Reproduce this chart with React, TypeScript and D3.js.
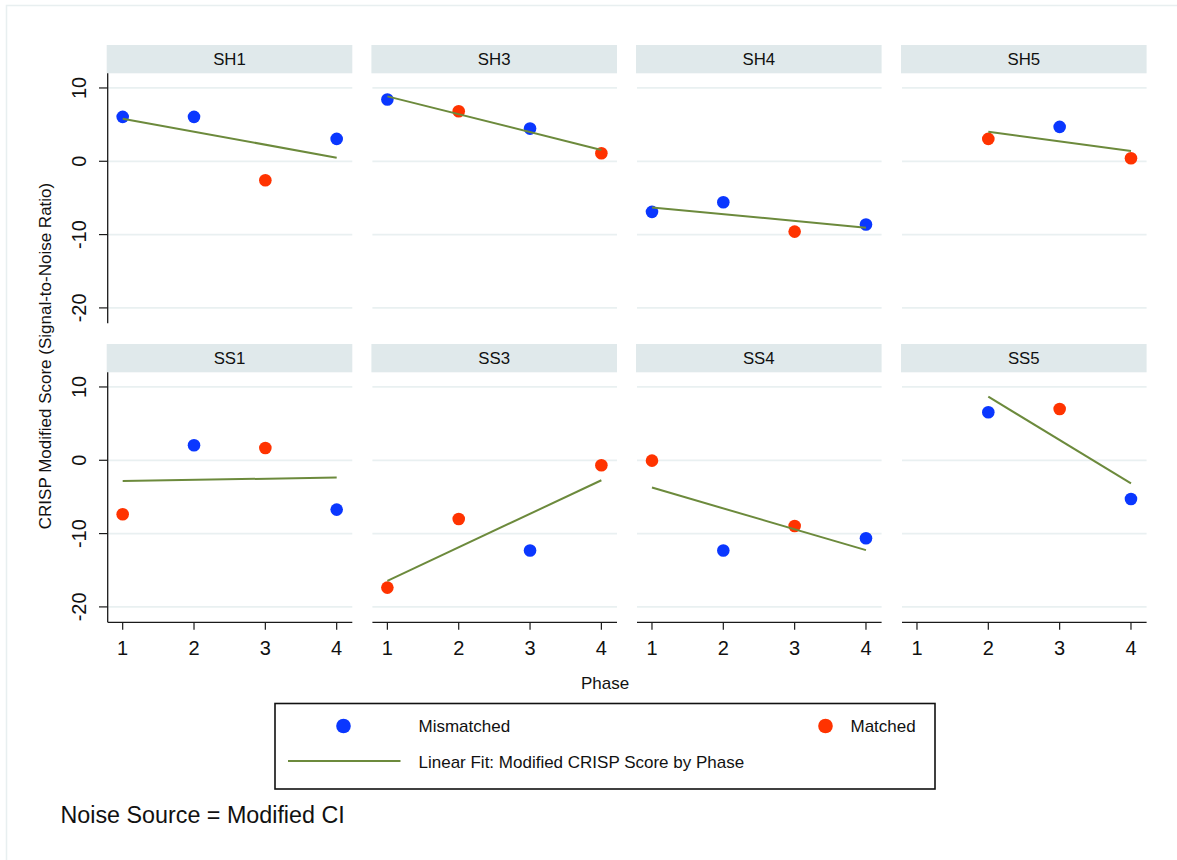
import React from "react";
import * as d3 from "d3";

// Panels: subject/condition groups, laid out 4 per row
const panelNames = ["SH1", "SH3", "SH4", "SH5", "SS1", "SS3", "SS4", "SS5"];
const phases = [1, 2, 3, 4];

// Modified CRISP score per panel, one value per phase (null = not observed)
const scores: (number | null)[][] = [
  [6.06, 6.06, -2.59, 3.05],
  [8.42, 6.82, 4.46, 1.09],
  [-6.9, -5.59, -9.59, -8.63],
  [null, 3.05, 4.69, 0.41],
  [-7.36, 2.05, 1.68, -6.73],
  [-17.37, -8.0, -12.3, -0.68],
  [-0.05, -12.3, -8.96, -10.64],
  [null, 6.55, 7.0, -5.28],
];

// Match status per panel and phase
const status: (string | null)[][] = [
  ["Mismatched", "Mismatched", "Matched", "Mismatched"],
  ["Mismatched", "Matched", "Mismatched", "Matched"],
  ["Mismatched", "Mismatched", "Matched", "Mismatched"],
  [null, "Matched", "Mismatched", "Matched"],
  ["Matched", "Mismatched", "Matched", "Mismatched"],
  ["Matched", "Matched", "Mismatched", "Matched"],
  ["Matched", "Mismatched", "Matched", "Mismatched"],
  [null, "Mismatched", "Matched", "Mismatched"],
];

const yTicks = [10, 0, -10, -20];
const xTicks = [1, 2, 3, 4];

const statusColor: Record<string, string> = {
  Mismatched: "#0a37ff",
  Matched: "#ff3300",
};
const fitColor = "#6c8a3c";
const stripFill = "#e0e9eb";
const gridColor = "#e9f0f1";
const FONT = "'Liberation Sans', Arial, Helvetica, sans-serif";

// Layout
const colLefts = [106.7, 371.4, 636, 901];
const panelW = 245.6;
const rowTops = [45, 344];
const stripH = 28.3;
const plotH = 250;

function linearFit(xs: number[], ys: number[]) {
  const mx = d3.mean(xs)!;
  const my = d3.mean(ys)!;
  let sxy = 0;
  let sxx = 0;
  xs.forEach((x, i) => {
    sxy += (x - mx) * (ys[i] - my);
    sxx += (x - mx) * (x - mx);
  });
  const b = sxy / sxx;
  const a = my - b * mx;
  return (x: number) => a + b * x;
}

function Panel({ idx }: { idx: number }) {
  const row = Math.floor(idx / 4);
  const col = idx % 4;
  const left = colLefts[col];
  const top = rowTops[row];
  const plotTop = top + stripH;
  const x = d3.scaleLinear().domain([0.776, 4.219]).range([left, left + panelW]);
  const y = d3.scaleLinear().domain([-22.1, 12.0]).range([plotTop + plotH, plotTop]);

  const pts = phases
    .map((p, i) => ({ p, v: scores[idx][i], s: status[idx][i] }))
    .filter((d) => d.v !== null) as { p: number; v: number; s: string }[];
  const fit = linearFit(pts.map((d) => d.p), pts.map((d) => d.v));
  const x0 = d3.min(pts, (d) => d.p)!;
  const x1 = d3.max(pts, (d) => d.p)!;
  const line = d3.line<number>().x((p) => x(p)).y((p) => y(fit(p)));

  return (
    <g>
      <rect x={left} y={top} width={panelW} height={stripH} fill={stripFill} />
      <text
        x={left + panelW / 2}
        y={top + 20}
        textAnchor="middle"
        fontSize={16.8}
        fontFamily={FONT}
        fill="#111"
      >
        {panelNames[idx]}
      </text>
      {yTicks.map((t) => (
        <line
          key={t}
          x1={left + 1}
          x2={left + panelW}
          y1={y(t)}
          y2={y(t)}
          stroke={gridColor}
          strokeWidth={1.8}
        />
      ))}
      {col === 0 && (
        <g>
          <line x1={left + 1} x2={left + 1} y1={plotTop} y2={plotTop + plotH} stroke="#1a1a1a" strokeWidth={1.3} />
          {yTicks.map((t) => (
            <g key={t}>
              <line x1={left - 7.7} x2={left + 1} y1={y(t)} y2={y(t)} stroke="#1a1a1a" strokeWidth={1.2} />
              <text
                transform={`translate(${left - 20.5},${y(t)}) rotate(-90)`}
                textAnchor="middle"
                fontSize={20}
                fontFamily={FONT}
                fill="#111"
              >
                {t}
              </text>
            </g>
          ))}
        </g>
      )}
      {row === 1 && (
        <g>
          <line x1={left + 1} x2={left + panelW} y1={plotTop + plotH} y2={plotTop + plotH} stroke="#1a1a1a" strokeWidth={1.3} />
          {xTicks.map((t) => (
            <g key={t}>
              <line x1={x(t)} x2={x(t)} y1={plotTop + plotH} y2={plotTop + plotH + 7.5} stroke="#1a1a1a" strokeWidth={1.2} />
              <text x={x(t)} y={654.5} textAnchor="middle" fontSize={20} fontFamily={FONT} fill="#111">
                {t}
              </text>
            </g>
          ))}
        </g>
      )}
      {pts.map((d) => (
        <circle key={d.p} cx={x(d.p)} cy={y(d.v)} r={6.3} fill={statusColor[d.s]} />
      ))}
      <path d={line([x0, x1])!} fill="none" stroke={fitColor} strokeWidth={2} />
    </g>
  );
}

export default function App() {
  return (
    <svg
      width={1177}
      height={860}
      style={{ position: "absolute", left: 0, top: 0, background: "#fff" }}
    >
      <rect x={0} y={0} width={1177} height={860} fill="#fff" />
      <rect x={6.5} y={5.5} width={1200} height={900} fill="none" stroke="#e8eff0" strokeWidth={1.5} />
      {panelNames.map((_, i) => (
        <Panel key={i} idx={i} />
      ))}
      <text
        transform="translate(50.5,356) rotate(-90)"
        textAnchor="middle"
        fontSize={17}
        fontFamily={FONT}
        fill="#111"
      >
        CRISP Modified Score (Signal-to-Noise Ratio)
      </text>
      <text x={605} y={689.3} textAnchor="middle" fontSize={17} fontFamily={FONT} fill="#111">
        Phase
      </text>
      {/* Legend */}
      <rect x={275} y={703.5} width={660} height={85.5} fill="#fff" stroke="#111" strokeWidth={1.6} />
      <circle cx={343.5} cy={726} r={7.3} fill={statusColor.Mismatched} />
      <text x={418.5} y={732.3} fontSize={17} fontFamily={FONT} fill="#111">
        Mismatched
      </text>
      <circle cx={825.5} cy={726} r={7.3} fill={statusColor.Matched} />
      <text x={850.5} y={732.3} fontSize={17} fontFamily={FONT} fill="#111">
        Matched
      </text>
      <line x1={288} x2={400.5} y1={761} y2={761} stroke={fitColor} strokeWidth={2.2} />
      <text x={418.5} y={768} fontSize={17} fontFamily={FONT} fill="#111">
        Linear Fit: Modified CRISP Score by Phase
      </text>
      <text x={60.5} y={823.3} fontSize={23.3} fontFamily={FONT} fill="#111">
        Noise Source = Modified CI
      </text>
    </svg>
  );
}
